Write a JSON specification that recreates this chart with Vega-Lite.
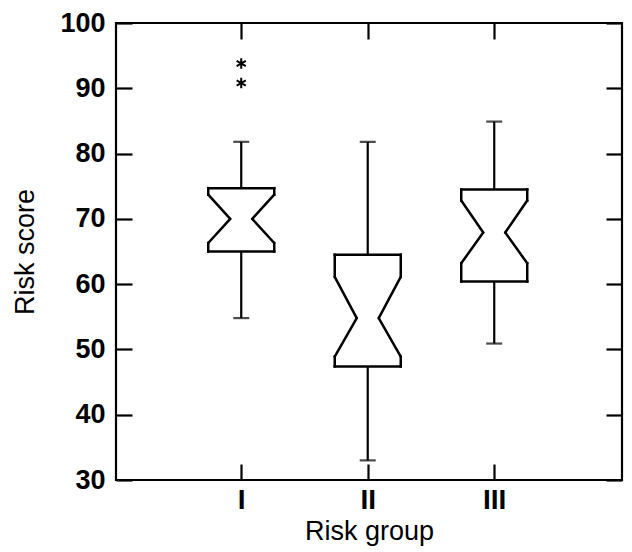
{
  "$schema": "https://vega.github.io/schema/vega-lite/v6.json",
  "width": 506,
  "height": 457,
  "autosize": {"type": "none"},
  "padding": {"left": 116, "top": 23, "right": 10, "bottom": 72},
  "background": "white",
  "config": {
    "view": {"stroke": "black", "strokeWidth": 2.2},
    "font": "Liberation Sans",
    "axis": {
      "domain": false,
      "grid": false,
      "tickColor": "black",
      "tickWidth": 2.2,
      "tickSize": -16,
      "labelColor": "black",
      "titleColor": "black",
      "labelFont": "Liberation Sans",
      "titleFont": "Liberation Sans",
      "labelFontWeight": "bold",
      "titleFontWeight": "normal"
    }
  },
  "datasets": {
    "stats": [
      {"group": "I", "low": 54.8, "q1": 65.0, "notchLo": 66.3, "median": 70.0, "notchHi": 73.7, "q3": 74.7, "high": 81.8},
      {"group": "II", "low": 33.0, "q1": 47.4, "notchLo": 48.9, "median": 54.8, "notchHi": 61.1, "q3": 64.5, "high": 81.8},
      {"group": "III", "low": 50.9, "q1": 60.4, "notchLo": 63.2, "median": 67.9, "notchHi": 72.8, "q3": 74.5, "high": 84.9}
    ],
    "outliers": [
      {"group": "I", "value": 93.8},
      {"group": "I", "value": 90.8}
    ]
  },
  "data": {"name": "stats"},
  "resolve": {"axis": {"x": "independent", "y": "independent"}},
  "layer": [
    {
      "mark": {"type": "rule", "color": "black", "strokeWidth": 2.2},
      "encoding": {
        "x": {
          "field": "group", "type": "ordinal",
          "scale": {"type": "point", "domain": ["I", "II", "III"], "padding": 1.015, "align": 0.495},
          "axis": {"orient": "bottom", "title": "Risk group", "labelAngle": 0, "labelFontSize": 28, "labelPadding": 22, "titleFontSize": 27, "titlePadding": 4}
        },
        "y": {
          "field": "high", "type": "quantitative",
          "scale": {"domain": [30, 100], "nice": false, "zero": false},
          "axis": {"orient": "left", "values": [30, 40, 50, 60, 70, 80, 90, 100], "title": "Risk score", "labelFontSize": 27, "labelPadding": 27, "titleFontSize": 27, "titlePadding": 20}
        },
        "y2": {"field": "q3"}
      }
    },
    {
      "mark": {"type": "rule", "color": "black", "strokeWidth": 2.2},
      "encoding": {
        "x": {
          "field": "group", "type": "ordinal",
          "axis": {"orient": "top", "title": null, "labels": false}
        },
        "y": {
          "field": "q1", "type": "quantitative",
          "axis": {"orient": "right", "values": [30, 40, 50, 60, 70, 80, 90, 100], "title": null, "labels": false}
        },
        "y2": {"field": "low"}
      }
    },
    {
      "mark": {"type": "tick", "color": "black", "size": 16, "thickness": 2.2},
      "encoding": {
        "x": {"field": "group", "type": "ordinal", "axis": null},
        "y": {"field": "high", "type": "quantitative", "axis": null}
      }
    },
    {
      "mark": {"type": "tick", "color": "black", "size": 16, "thickness": 2.2},
      "encoding": {
        "x": {"field": "group", "type": "ordinal", "axis": null},
        "y": {"field": "low", "type": "quantitative", "axis": null}
      }
    },
    {
      "mark": {"type": "rule", "color": "black", "strokeWidth": 2.5, "strokeCap": "square", "xOffset": -33, "x2Offset": 33},
      "encoding": {
        "x": {"field": "group", "type": "ordinal", "axis": null},
        "x2": {"field": "group"},
        "y": {"field": "q3", "type": "quantitative", "axis": null}
      }
    },
    {
      "mark": {"type": "rule", "color": "black", "strokeWidth": 2.5, "strokeCap": "square", "xOffset": -33, "x2Offset": 33},
      "encoding": {
        "x": {"field": "group", "type": "ordinal", "axis": null},
        "x2": {"field": "group"},
        "y": {"field": "q1", "type": "quantitative", "axis": null}
      }
    },
    {
      "mark": {"type": "rule", "color": "black", "strokeWidth": 2.5, "strokeCap": "square", "xOffset": -33},
      "encoding": {
        "x": {"field": "group", "type": "ordinal", "axis": null},
        "y": {"field": "q3", "type": "quantitative", "axis": null},
        "y2": {"field": "notchHi"}
      }
    },
    {
      "mark": {"type": "rule", "color": "black", "strokeWidth": 2.5, "strokeCap": "square", "xOffset": 33},
      "encoding": {
        "x": {"field": "group", "type": "ordinal", "axis": null},
        "y": {"field": "q3", "type": "quantitative", "axis": null},
        "y2": {"field": "notchHi"}
      }
    },
    {
      "mark": {"type": "rule", "color": "black", "strokeWidth": 2.5, "strokeCap": "square", "xOffset": -33},
      "encoding": {
        "x": {"field": "group", "type": "ordinal", "axis": null},
        "y": {"field": "notchLo", "type": "quantitative", "axis": null},
        "y2": {"field": "q1"}
      }
    },
    {
      "mark": {"type": "rule", "color": "black", "strokeWidth": 2.5, "strokeCap": "square", "xOffset": 33},
      "encoding": {
        "x": {"field": "group", "type": "ordinal", "axis": null},
        "y": {"field": "notchLo", "type": "quantitative", "axis": null},
        "y2": {"field": "q1"}
      }
    },
    {
      "mark": {"type": "rule", "color": "black", "strokeWidth": 2.5, "strokeCap": "round", "xOffset": -33, "x2Offset": -11},
      "encoding": {
        "x": {"field": "group", "type": "ordinal", "axis": null},
        "x2": {"field": "group"},
        "y": {"field": "notchHi", "type": "quantitative", "axis": null},
        "y2": {"field": "median"}
      }
    },
    {
      "mark": {"type": "rule", "color": "black", "strokeWidth": 2.5, "strokeCap": "round", "xOffset": -33, "x2Offset": -11},
      "encoding": {
        "x": {"field": "group", "type": "ordinal", "axis": null},
        "x2": {"field": "group"},
        "y": {"field": "notchLo", "type": "quantitative", "axis": null},
        "y2": {"field": "median"}
      }
    },
    {
      "mark": {"type": "rule", "color": "black", "strokeWidth": 2.5, "strokeCap": "round", "xOffset": 33, "x2Offset": 11},
      "encoding": {
        "x": {"field": "group", "type": "ordinal", "axis": null},
        "x2": {"field": "group"},
        "y": {"field": "notchHi", "type": "quantitative", "axis": null},
        "y2": {"field": "median"}
      }
    },
    {
      "mark": {"type": "rule", "color": "black", "strokeWidth": 2.5, "strokeCap": "round", "xOffset": 33, "x2Offset": 11},
      "encoding": {
        "x": {"field": "group", "type": "ordinal", "axis": null},
        "x2": {"field": "group"},
        "y": {"field": "notchLo", "type": "quantitative", "axis": null},
        "y2": {"field": "median"}
      }
    },
    {
      "data": {"name": "outliers"},
      "mark": {"type": "point", "shape": "M0,-1L0,1M-0.87,-0.5L0.87,0.5M-0.87,0.5L0.87,-0.5", "size": 110, "filled": false, "stroke": "black", "strokeWidth": 2, "opacity": 1},
      "encoding": {
        "x": {"field": "group", "type": "ordinal", "axis": null},
        "y": {"field": "value", "type": "quantitative", "axis": null}
      }
    }
  ]
}
